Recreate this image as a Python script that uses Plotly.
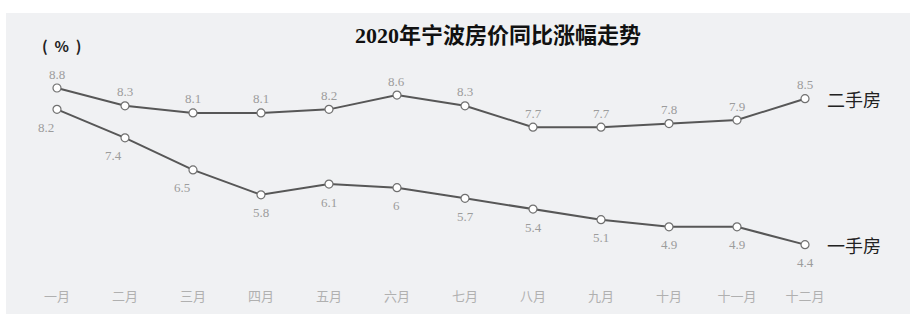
import plotly.graph_objects as go

months = ["一月", "二月", "三月", "四月", "五月", "六月", "七月", "八月", "九月", "十月", "十一月", "十二月"]
second_hand = [8.8, 8.3, 8.1, 8.1, 8.2, 8.6, 8.3, 7.7, 7.7, 7.8, 7.9, 8.5]
first_hand = [8.2, 7.4, 6.5, 5.8, 6.1, 6.0, 5.7, 5.4, 5.1, 4.9, 4.9, 4.4]
second_labels = ["8.8", "8.3", "8.1", "8.1", "8.2", "8.6", "8.3", "7.7", "7.7", "7.8", "7.9", "8.5"]
first_labels = ["8.2", "7.4", "6.5", "5.8", "6.1", "6", "5.7", "5.4", "5.1", "4.9", "4.9", "4.4"]

idx = list(range(len(months)))
line_color = "#575757"
label_font = dict(family="Liberation Serif", size=13, color="#9c9c9c")
marker = dict(symbol="circle", size=8, color="white", line=dict(color="#707070", width=1.2))

fig = go.Figure()
fig.add_trace(go.Scatter(x=idx, y=second_hand, mode="lines+markers",
                         line=dict(color=line_color, width=2), marker=marker,
                         cliponaxis=False, showlegend=False, name="二手房"))
fig.add_trace(go.Scatter(x=idx, y=first_hand, mode="lines+markers",
                         line=dict(color=line_color, width=2), marker=marker,
                         cliponaxis=False, showlegend=False, name="一手房"))

for i, (v, t) in enumerate(zip(second_hand, second_labels)):
    fig.add_annotation(x=i, y=v, text=t, showarrow=False, yshift=14, xshift=0,
                       xanchor="center", yanchor="middle", font=label_font)
for i, (v, t) in enumerate(zip(first_hand, first_labels)):
    fig.add_annotation(x=i, y=v, text=t, showarrow=False, yshift=-18,
                       xshift=(-11 if i < 3 else 0),
                       xanchor="center", yanchor="middle", font=label_font)

fig.add_annotation(x=11.3, y=second_hand[-1], xref="x", yref="y", text="二手房",
                   showarrow=False, xanchor="left", yanchor="middle",
                   font=dict(family="Noto Sans CJK SC", size=18, color="#222"))
fig.add_annotation(x=11.3, y=first_hand[-1], xref="x", yref="y", text="一手房",
                   showarrow=False, xanchor="left", yanchor="middle",
                   font=dict(family="Noto Sans CJK SC", size=18, color="#222"))

fig.add_annotation(x=0.547, y=1 - 35 / 287, xref="paper", yref="paper",
                   text="<b>2020年宁波房价同比涨幅走势</b>", showarrow=False,
                   xanchor="center", yanchor="middle",
                   font=dict(family="Liberation Serif, Noto Sans CJK SC", size=22, color="#111"))
fig.add_annotation(x=62 / 910, y=1 - 45 / 287, xref="paper", yref="paper",
                   text="<b>(  %  )</b>", showarrow=False,
                   xanchor="center", yanchor="middle",
                   font=dict(family="Noto Sans CJK SC", size=15, color="#222"))

fig.update_layout(
    width=910, height=317,
    margin=dict(l=0, r=0, t=0, b=30),
    paper_bgcolor="white", plot_bgcolor="rgba(0,0,0,0)",
    shapes=[dict(type="rect", xref="paper", yref="paper", layer="below",
                 x0=6 / 910, x1=1.0, y0=-27 / 287, y1=1 - 13 / 287,
                 fillcolor="#f0f1f3", line=dict(width=0))],
    xaxis=dict(range=[-0.838, 12.544], tickmode="array", tickvals=idx, ticktext=months,
               showgrid=False, zeroline=False, showline=False, ticks="",
               tickfont=dict(family="Noto Sans CJK SC", size=13, color="#b0b0b0")),
    yaxis=dict(range=[3.21, 11.272], showgrid=False, zeroline=False, showline=False,
               showticklabels=False, ticks=""),
)

fig.write_html("out.html", config={"displayModeBar": False},
               post_script="document.body.style.margin='0';")
